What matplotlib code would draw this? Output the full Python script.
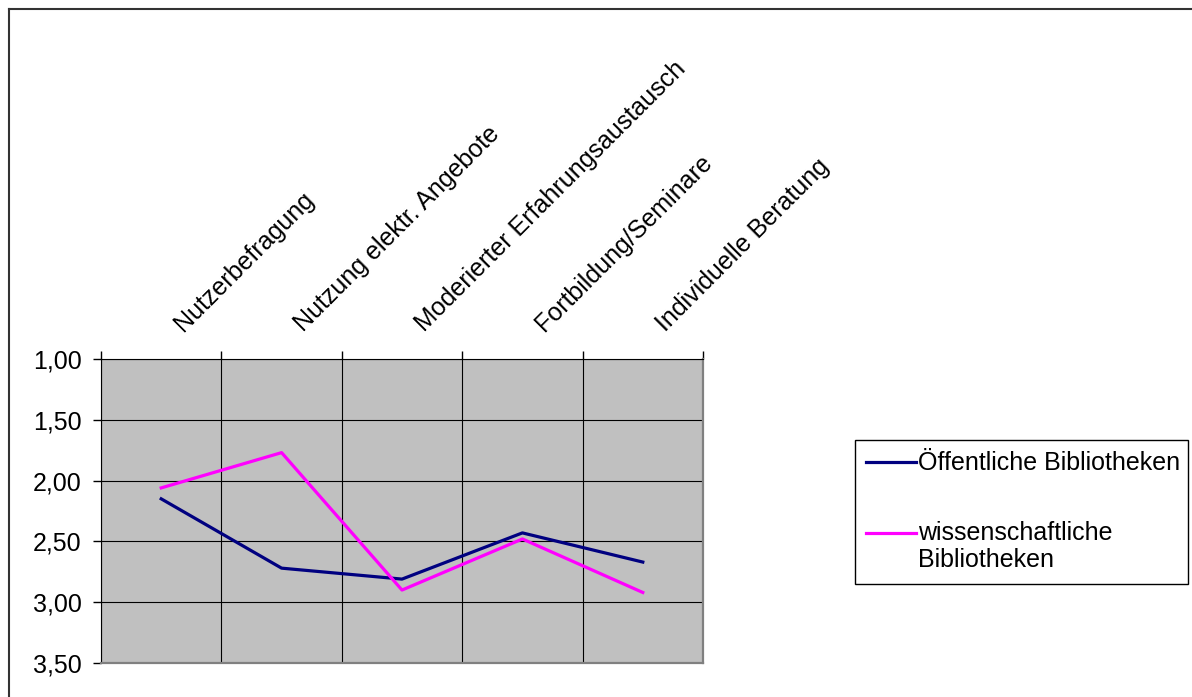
import matplotlib
matplotlib.use('Agg')
import matplotlib.pyplot as plt
import matplotlib.transforms as mtransforms
from matplotlib.lines import Line2D
from matplotlib.legend_handler import HandlerLine2D
import numpy as np

categories = ['Nutzerbefragung', 'Nutzung elektr. Angebote',
              'Moderierter Erfahrungsaustausch', 'Fortbildung/Seminare',
              'Individuelle Beratung']
oeffentliche = [2.15, 2.72, 2.81, 2.43, 2.67]
wissenschaftliche = [2.06, 1.77, 2.90, 2.48, 2.92]
series_names = ['Öffentliche Bibliotheken', 'wissenschaftliche\nBibliotheken']
y_ticks = [1.0, 1.5, 2.0, 2.5, 3.0, 3.5]

plt.rcParams['font.family'] = ['Liberation Sans', 'DejaVu Sans']


class HandlerTopLine(HandlerLine2D):
    # Legendenlinie auf Höhe der ersten Textzeile
    def create_artists(self, legend, orig_handle, xdescent, ydescent, width, height,
                       fontsize, trans):
        artists = super().create_artists(legend, orig_handle, xdescent, ydescent,
                                         width, height, fontsize, trans)
        for a in artists:
            a.set_ydata(np.asarray(a.get_ydata()) + 0.6 * fontsize)
        return artists


W, H = 1192, 697
fig = plt.figure(figsize=(W / 100, H / 100), dpi=100)
ax = fig.add_axes([101 / W, 1 - 663 / H, (703 - 101) / W, (663 - 359) / H])

x = np.arange(len(categories))
line1, = ax.plot(x, oeffentliche, color='#000080', lw=2.3, label=series_names[0])
line2, = ax.plot(x, wissenschaftliche, color='#FF00FF', lw=2.3, label=series_names[1])

ax.set_facecolor('#C0C0C0')
ax.set_xlim(-0.5, len(categories) - 0.5)
ax.set_ylim(3.5, 1.0)
ax.set_yticks(y_ticks)
ax.set_yticklabels([f'{v:.2f}'.replace('.', ',') for v in y_ticks])

# Grenzen der Kategorien = Gitterlinien, Beschriftung in der Mitte
ax.set_xticks(np.arange(-0.5, len(categories)))
ax.set_xticklabels([])
ax.set_xticks(x, minor=True)
ax.set_xticklabels(categories, minor=True, rotation=45, ha='left',
                   va='baseline', rotation_mode='anchor')
ax.xaxis.tick_top()
ax.tick_params(axis='x', which='major', direction='out', length=6, width=1, color='black')
ax.tick_params(axis='x', which='minor', length=0, pad=19, labelsize=18)
ax.tick_params(axis='y', direction='out', length=6, width=1, labelsize=18, pad=8)
ax.grid(True, which='major', color='black', lw=0.8)
ax.set_axisbelow(True)

offset = mtransforms.ScaledTranslation(16 / 72, 0, fig.dpi_scale_trans)
for lbl in ax.xaxis.get_minorticklabels():
    lbl.set_transform(lbl.get_transform() + offset)

ax.spines['left'].set_color('black')
ax.spines['top'].set_color('black')
ax.spines['right'].set_color('#808080')
ax.spines['bottom'].set_color('#808080')
ax.spines['right'].set_linewidth(1.6)
ax.spines['bottom'].set_linewidth(1.6)

leg = fig.legend(handles=[line1, line2], loc='upper left',
                 bbox_to_anchor=(855 / W, 1 - 584 / H, (1188 - 855) / W, (584 - 440) / H),
                 mode='expand', fontsize=18, frameon=True, fancybox=False,
                 edgecolor='black', framealpha=1, handlelength=2.0,
                 handletextpad=0.08, labelspacing=1.85, borderpad=0.45,
                 borderaxespad=0, handler_map={line2: HandlerTopLine()})
leg.get_frame().set_linewidth(1.0)
for t in leg.get_texts():
    t.set_linespacing(1.15)

# Rahmen um das Diagramm (nur oben und links sichtbar)
fig.add_artist(Line2D([9 / W, 1.0], [1 - 9 / H, 1 - 9 / H], color='#333333', lw=1.5,
                      transform=fig.transFigure))
fig.add_artist(Line2D([9 / W, 9 / W], [0.0, 1 - 9 / H], color='#333333', lw=1.5,
                      transform=fig.transFigure))

fig.savefig('out.png', dpi=100)
